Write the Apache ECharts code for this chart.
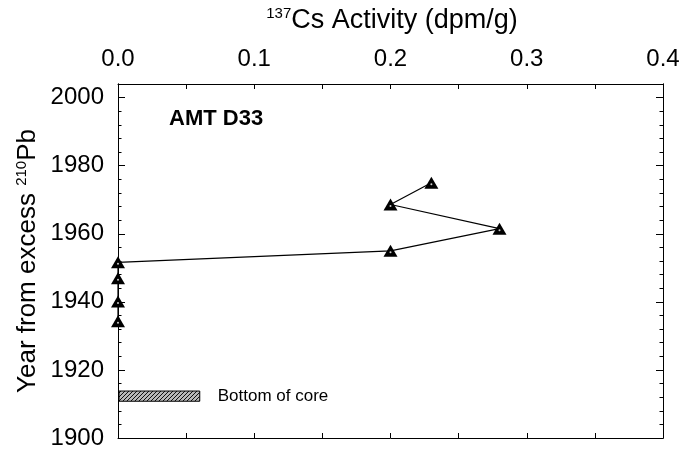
<!DOCTYPE html>
<html><head><meta charset="utf-8">
<script src="https://cdn.jsdelivr.net/npm/echarts@6/dist/echarts.min.js"></script>
<style>html,body{margin:0;padding:0;background:#fff}#c{width:683px;height:451px}</style>
</head><body><div id="c"></div>
<script>
// ---- data ----
const csActivity = [0.23, 0.20, 0.28, 0.20, 0.00, 0.00, 0.00, 0.00];
const years      = [1975.0, 1968.6, 1961.5, 1955.0, 1951.6, 1946.9, 1940.1, 1934.3];
const xTickValues = [0.0, 0.1, 0.2, 0.3, 0.4];
const yTickValues = [1900, 1920, 1940, 1960, 1980, 2000];
const coreBottomX = [0.0, 0.06];
const coreBottomYear = [1910.8, 1913.8];
const coreLabel = 'Bottom of core';
const coreName = 'AMT D33';
const xTitleSup = '137', xTitleMain = 'Cs Activity (dpm/g)';
const yTitleMain = 'Year from excess ', yTitleSup = '210', yTitleEnd = 'Pb';

const FF = '"Liberation Sans", Arial, Helvetica, sans-serif';
const chart = echarts.init(document.getElementById('c'), null, {renderer: 'canvas'});

// hatch pattern
const pc = document.createElement('canvas');
pc.width = 4; pc.height = 4;
const g = pc.getContext('2d');
g.fillStyle = '#b8b8b8'; g.fillRect(0, 0, 4, 4);
g.strokeStyle = '#111'; g.lineWidth = 1;
g.beginPath();
g.moveTo(0, 4); g.lineTo(4, 0);
g.moveTo(-1, 1); g.lineTo(1, -1);
g.moveTo(3, 5); g.lineTo(5, 3);
g.stroke();
const hatch = {image: pc, repeat: 'repeat'};

const pts = csActivity.map((x, i) => [x, years[i]]);
const axisLineStyle = {show: true, lineStyle: {color: '#000', width: 1}};

const yBase = {
  type: 'value', min: 1900, max: 2004, splitLine: {show: false},
  axisLine: axisLineStyle
};

chart.setOption({
  animation: false,
  backgroundColor: '#fff',
  grid: {left: 118, right: 20, top: 84, bottom: 13, containLabel: false},
  xAxis: [
    {type: 'value', position: 'top', min: 0, max: 0.4, interval: 0.1,
     axisLine: axisLineStyle,
     axisTick: {inside: true, length: 5, lineStyle: {color: '#000'}},
     minorTick: {show: true, splitNumber: 2, length: 5, lineStyle: {color: '#000'}},
     axisLabel: {customValues: xTickValues, formatter: v => v.toFixed(1), fontSize: 24, color: '#000', fontFamily: FF, margin: 13},
     splitLine: {show: false}},
    {type: 'value', position: 'bottom', min: 0, max: 0.4, interval: 0.1,
     axisLine: axisLineStyle,
     axisTick: {inside: true, length: 5, lineStyle: {color: '#000'}},
     minorTick: {show: true, splitNumber: 2, length: 5, lineStyle: {color: '#000'}},
     axisLabel: {show: false}, splitLine: {show: false}}
  ],
  yAxis: [
    Object.assign({}, yBase, {position: 'left', interval: 20,
     axisTick: {inside: true, length: 7, customValues: yTickValues, lineStyle: {color: '#000'}},
     axisLabel: {customValues: yTickValues, fontSize: 24, color: '#000', fontFamily: FF, margin: 14,
                 padding: [4, 0, 0, 0], formatter: v => String(v)}}),
    Object.assign({}, yBase, {position: 'left', interval: 4,
     axisTick: {inside: true, length: 3.5, lineStyle: {color: '#000'}},
     axisLabel: {show: false}}),
    Object.assign({}, yBase, {position: 'right', interval: 20,
     axisTick: {inside: true, length: 7, customValues: yTickValues, lineStyle: {color: '#000'}},
     axisLabel: {show: false}}),
    Object.assign({}, yBase, {position: 'right', interval: 4,
     axisTick: {inside: true, length: 3.5, lineStyle: {color: '#000'}},
     axisLabel: {show: false}})
  ],
  graphic: [
    {type: 'text', x: 392, y: 21, z: 10,
     style: {text: '{s|' + xTitleSup + '}{n|' + xTitleMain + '}', align: 'center', verticalAlign: 'middle',
       rich: {s: {fontSize: 15, fontFamily: FF, fill: '#000', verticalAlign: 'top', lineHeight: 29},
              n: {fontSize: 27, fontFamily: FF, fill: '#000', lineHeight: 29}}}},
    {type: 'text', x: 28, y: 261, rotation: Math.PI / 2, z: 10,
     style: {text: '{n|' + yTitleMain + '}{s|' + yTitleSup + '}{n|' + yTitleEnd + '}', align: 'center', verticalAlign: 'middle',
       rich: {s: {fontSize: 15, fontFamily: FF, fill: '#000', verticalAlign: 'top', lineHeight: 28},
              n: {fontSize: 26, fontFamily: FF, fill: '#000', lineHeight: 28}}}},
    {type: 'text', left: 169, top: 108, z: 10,
     style: {text: coreName, fill: '#000', font: 'bold 22px ' + FF}}
  ],
  series: [
    {type: 'line', xAxisIndex: 0, yAxisIndex: 0, data: pts, clip: false,
     symbol: 'triangle', symbolSize: [14, 12], showAllSymbol: true,
     itemStyle: {color: '#000'}, lineStyle: {color: '#000', width: 1.2}, z: 5},
    {type: 'scatter', xAxisIndex: 0, yAxisIndex: 0, data: pts, clip: false,
     symbol: 'circle', symbolSize: 2, symbolOffset: [0, 1.5], itemStyle: {color: '#fff'}, z: 6},
    {type: 'custom', xAxisIndex: 0, yAxisIndex: 0, clip: false, z: 4,
     data: [[coreBottomX[0], coreBottomX[1], coreBottomYear[0], coreBottomYear[1]]],
     renderItem: function (params, api) {
       const p0 = api.coord([api.value(0), api.value(3)]);
       const p1 = api.coord([api.value(1), api.value(2)]);
       return {type: 'group', children: [
         {type: 'rect', shape: {x: p0[0] + 1, y: p0[1], width: p1[0] - p0[0] - 1, height: p1[1] - p0[1]},
          style: {fill: hatch, stroke: '#000', lineWidth: 1}},
         {type: 'text', x: p1[0] + 18, y: (p0[1] + p1[1]) / 2,
          style: {text: coreLabel, fill: '#000', fontSize: 17, fontFamily: FF, align: 'left', verticalAlign: 'middle'}}
       ]};
     }}
  ]
});
</script></body></html>
